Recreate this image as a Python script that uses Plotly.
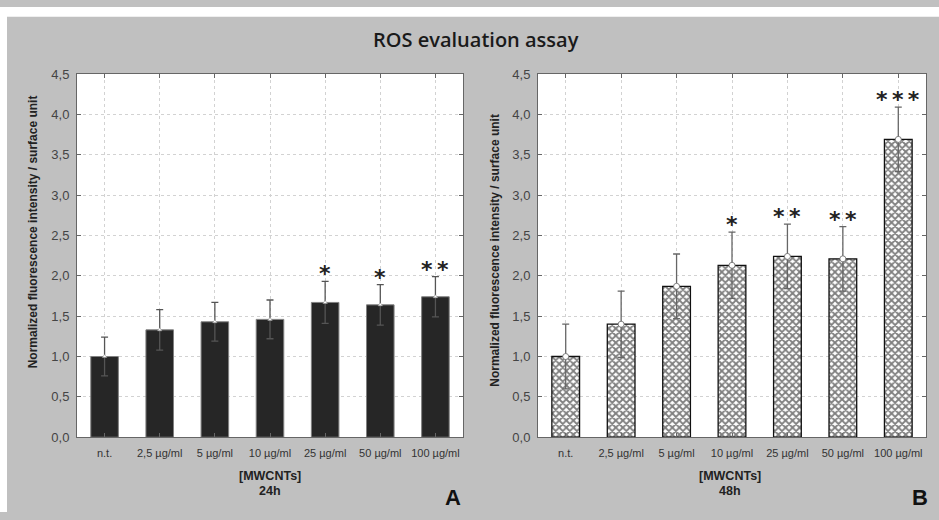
import plotly.graph_objects as go

categories = ["n.t.", "2,5 µg/ml", "5 µg/ml", "10 µg/ml", "25 µg/ml", "50 µg/ml", "100 µg/ml"]
mean_24h = [1.00, 1.33, 1.43, 1.46, 1.67, 1.64, 1.74]
sd_24h = [0.24, 0.25, 0.24, 0.24, 0.26, 0.25, 0.25]
sig_24h = ["", "", "", "", "*", "*", "**"]
mean_48h = [1.00, 1.40, 1.87, 2.13, 2.24, 2.21, 3.69]
sd_48h = [0.40, 0.41, 0.40, 0.41, 0.40, 0.40, 0.40]
sig_48h = ["", "", "", "*", "**", "**", "***"]
ytick_vals = [0.0, 0.5, 1.0, 1.5, 2.0, 2.5, 3.0, 3.5, 4.0, 4.5]
ytick_text = ["0,0", "0,5", "1,0", "1,5", "2,0", "2,5", "3,0", "3,5", "4,0", "4,5"]

W, H = 939, 520
FONT = "Liberation Sans, Arial, sans-serif"
fig = go.Figure()

# Panel A bars
fig.add_trace(go.Bar(x=categories, y=mean_24h, width=0.5,
                     marker=dict(color="#262626", line=dict(color="#808080", width=1)),
                     xaxis="x", yaxis="y", showlegend=False))
fig.add_trace(go.Scatter(x=categories, y=mean_24h, mode="markers",
                         marker=dict(symbol="triangle-up", size=4, color="white",
                                     line=dict(color="#888", width=0.5)),
                         error_y=dict(type="data", array=sd_24h, color="#555555",
                                      thickness=1.3, width=3.5),
                         xaxis="x", yaxis="y", showlegend=False))
# Panel B bars
fig.add_trace(go.Bar(x=categories, y=mean_48h, width=0.5,
                     marker=dict(color="white", line=dict(color="#111111", width=1.3),
                                 pattern=dict(shape="x", fgcolor="#000000", bgcolor="white",
                                              size=5, solidity=0.6)),
                     xaxis="x2", yaxis="y2", showlegend=False))
fig.add_trace(go.Scatter(x=categories, y=mean_48h, mode="markers",
                         marker=dict(symbol="circle", size=6, color="white",
                                     line=dict(color="#666", width=0.8)),
                         error_y=dict(type="data", array=sd_48h, color="#666666",
                                      thickness=1.3, width=3.5),
                         xaxis="x2", yaxis="y2", showlegend=False))

ydom = [1 - 443 / H, 1 - 69 / H]
axis_common = dict(showline=True, linecolor="#666666", linewidth=1, mirror="ticks",
                   ticks="inside", ticklen=4, tickcolor="#666666",
                   showgrid=True, gridcolor="#d2d2d2", griddash="dot", gridwidth=1,
                   zeroline=False)
xaxis_common = dict(axis_common, type="category", range=[-0.5, 6.5], ticklabelstandoff=6,
                    tickfont=dict(family=FONT, size=11, color="#333"))
yaxis_common = dict(axis_common, range=[0, 4.5], tickvals=ytick_vals, ticktext=ytick_text,
                    ticklabelstandoff=4,
                    tickfont=dict(family=FONT, size=13, color="#444"))

fig.update_layout(
    width=W, height=H,
    margin=dict(l=0, r=0, t=0, b=0),
    paper_bgcolor="#c0c0c0", plot_bgcolor="white",
    xaxis=dict(xaxis_common, domain=[77 / W, 463 / W], anchor="y"),
    yaxis=dict(yaxis_common, domain=ydom, anchor="x"),
    xaxis2=dict(xaxis_common, domain=[538 / W, 926 / W], anchor="y2"),
    yaxis2=dict(yaxis_common, domain=ydom, anchor="x2"),
    shapes=[
        dict(type="rect", xref="paper", yref="paper", x0=0, x1=1, y0=1 - 10 / H, y1=1,
             fillcolor="white", line=dict(width=0), layer="below"),
        dict(type="rect", xref="paper", yref="paper", x0=0, x1=7 / W, y0=0, y1=1,
             fillcolor="white", line=dict(width=0), layer="below"),
    ],
)

ann = []
ann.append(dict(text="ROS evaluation assay", x=476 / W, y=1 - 33 / H, xref="paper", yref="paper",
                showarrow=False, xanchor="center", yanchor="middle",
                font=dict(family="Open Sans", size=20, color="#1a1a1a", weight=600)))
for xc, yc in [(33, 232), (495, 250)]:
    ann.append(dict(text="<b>Normalized fluorescence intensity / surface unit</b>",
                    x=xc / W, y=1 - yc / H, xref="paper", yref="paper", textangle=-90,
                    showarrow=False, xanchor="center", yanchor="middle",
                    font=dict(family=FONT, size=12, color="#222")))
for xc, lab, letter, lx in [(270, "24h", "A", 453), (730, "48h", "B", 920)]:
    ann.append(dict(text="<b>[MWCNTs]</b>", x=xc / W, y=1 - 483 / H, xref="paper", yref="paper",
                    showarrow=False, xanchor="center", yanchor="middle",
                    font=dict(family=FONT, size=12.5, color="#222")))
    ann.append(dict(text="<b>" + lab + "</b>", x=xc / W, y=1 - 498 / H, xref="paper", yref="paper",
                    showarrow=False, xanchor="center", yanchor="middle",
                    font=dict(family=FONT, size=12.5, color="#222")))
    ann.append(dict(text="<b>" + letter + "</b>", x=lx / W, y=1 - 505 / H, xref="paper", yref="paper",
                    showarrow=False, xanchor="center", yanchor="middle",
                    font=dict(family=FONT, size=22, color="#111")))
for xa, ya, means, sds, sigs in [("x", "y", mean_24h, sd_24h, sig_24h),
                                 ("x2", "y2", mean_48h, sd_48h, sig_48h)]:
    for c, m, s, t in zip(categories, means, sds, sigs):
        if t:
            ann.append(dict(text="<b>" + "\u2009".join(list(t)) + "</b>", x=c, y=m + s,
                            xref=xa, yref=ya,
                            showarrow=False, xanchor="center", yanchor="bottom", yshift=-7,
                            font=dict(family="DejaVu Sans", size=22, color="#222")))
fig.update_layout(annotations=ann)

fig.write_html("out.html")
